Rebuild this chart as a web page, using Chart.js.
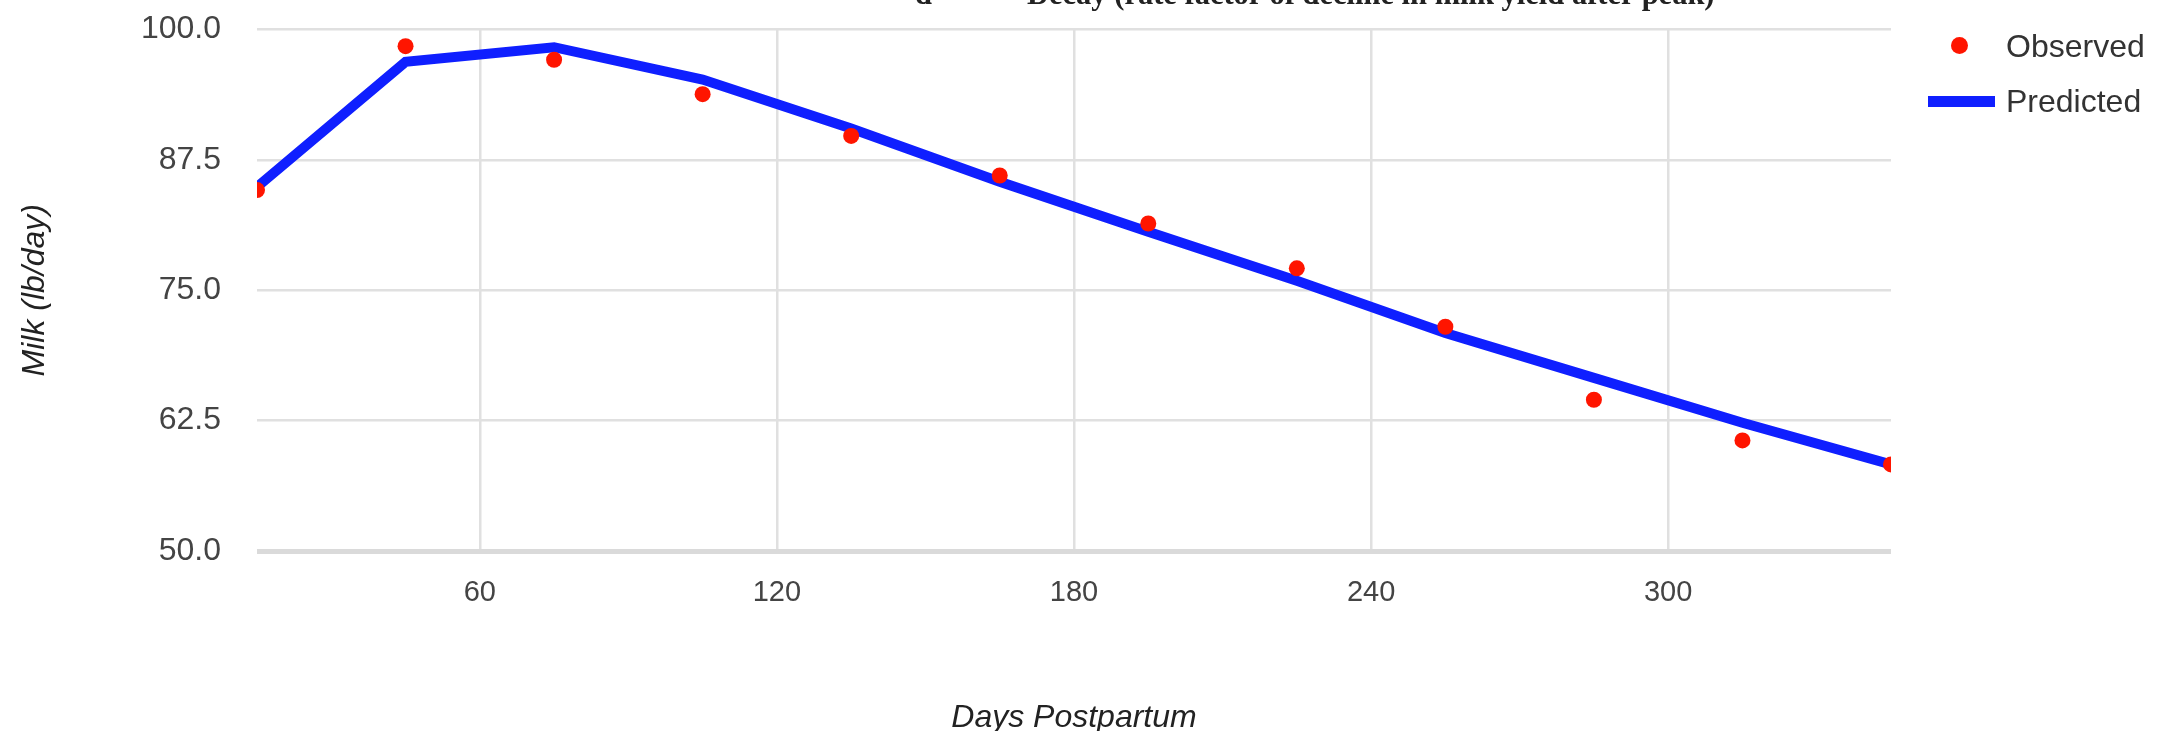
<!DOCTYPE html>
<html>
<head>
<meta charset="utf-8">
<script src="https://cdn.jsdelivr.net/npm/chart.js@4"></script>
<style>
  html, body { margin: 0; padding: 0; background: #fff; overflow: hidden; }
  #wrap { position: relative; width: 2162px; height: 731px; }
  #topnote { position: absolute; top: -21px; left: 0; width: 2162px; height: 30px; line-height: 30px;
    font-family: "Liberation Serif", "DejaVu Serif", serif; font-weight: bold; font-size: 30.5px; color: #222; white-space: nowrap; }
  #topnote span { position: absolute; top: 0; }
  .leg { position: absolute; font-family: "Liberation Sans", Arial, sans-serif; font-size: 32px; color: #333; white-space: nowrap; line-height: 40px; }
  .dot { position: absolute; width: 17px; height: 17px; border-radius: 50%; background: #ff1500; }
  .bar { position: absolute; height: 11px; background: #0f1fff; }
</style>
</head>
<body>
<div id="wrap">
  <canvas id="c" width="2162" height="731"></canvas>
  <div id="topnote"><span style="left:915px">d</span><span style="left:1027px">Decay (rate factor of decline in milk yield after peak)</span></div>
  <div class="dot" style="left:1951px; top:37px;"></div>
  <div class="leg" style="left:2006px; top:26px;">Observed</div>
  <div class="bar" style="left:1928px; width:67px; top:96px;"></div>
  <div class="leg" style="left:2006px; top:81px;">Predicted</div>
</div>
<script>
// ---- data ----
const days      = [15, 45, 75, 105, 135, 165, 195, 225, 255, 285, 315, 345];
const observed  = [84.6, 98.4, 97.1, 93.8, 89.8, 86.0, 81.4, 77.1, 71.5, 64.5, 60.6, 58.3];
const predicted = [84.9, 96.9, 98.3, 95.2, 90.5, 85.4, 80.6, 75.9, 70.9, 66.6, 62.3, 58.3];
const xTickValues = [60, 120, 180, 240, 300];
const yTickValues = [50, 62.5, 75, 87.5, 100];
const xTitle = "Days Postpartum";
const yTitle = "Milk (lb/day)";
const seriesNames = ["Observed", "Predicted"];

const toPts = (xs, ys) => xs.map((x, i) => ({ x: x, y: ys[i] }));
const FONT = "'Liberation Sans', Arial, sans-serif";

new Chart(document.getElementById('c'), {
  type: 'line',
  data: {
    datasets: [
      {
        label: seriesNames[0],
        data: toPts(days, observed),
        showLine: false,
        pointRadius: 8,
        pointHoverRadius: 8,
        pointBackgroundColor: '#ff1500',
        pointBorderWidth: 0,
        borderColor: '#ff1500'
      },
      {
        label: seriesNames[1],
        data: toPts(days, predicted),
        borderColor: '#0f1fff',
        borderWidth: 10,
        pointRadius: 0,
        tension: 0,
        fill: false
      }
    ]
  },
  options: {
    responsive: false,
    animation: false,
    devicePixelRatio: 1,
    layout: { padding: { top: 29.5, right: 271, bottom: 0, left: 0 } },
    plugins: { legend: { display: false }, tooltip: { enabled: false } },
    scales: {
      x: {
        type: 'linear',
        min: 15,
        max: 345,
        afterBuildTicks: s => { s.ticks = xTickValues.map(v => ({ value: v })); },
        afterFit: s => { s.height = 180; s.paddingLeft = 0; s.paddingRight = 0; },
        grid: { color: '#e0e0e0', lineWidth: 2.5, drawTicks: false },
        border: { display: false },
        ticks: { padding: 25, color: '#444', font: { family: FONT, size: 29 }, callback: v => String(v), maxRotation: 0 },
        title: { display: true, text: xTitle, color: '#222', font: { family: FONT, size: 32, style: 'italic', lineHeight: 0.8 }, padding: { top: 0, bottom: 0 } }
      },
      y: {
        type: 'linear',
        min: 50,
        max: 100,
        afterBuildTicks: s => { s.ticks = yTickValues.map(v => ({ value: v })); },
        afterFit: s => { s.width = 257; s.paddingTop = 0; s.paddingBottom = 0; },
        grid: {
          color: ctx => (ctx.tick && ctx.tick.value === 50) ? '#dadada' : '#e0e0e0',
          lineWidth: ctx => (ctx.tick && ctx.tick.value === 50) ? 5 : 2.5,
          drawTicks: false
        },
        border: { display: false },
        ticks: { padding: 36, color: '#444', font: { family: FONT, size: 32 }, callback: v => Number(v).toFixed(1) },
        title: { display: true, text: yTitle, color: '#222', font: { family: FONT, size: 32, style: 'italic', lineHeight: 1.2 }, padding: { top: 16, bottom: 0 } }
      }
    }
  }
});
</script>
</body>
</html>
